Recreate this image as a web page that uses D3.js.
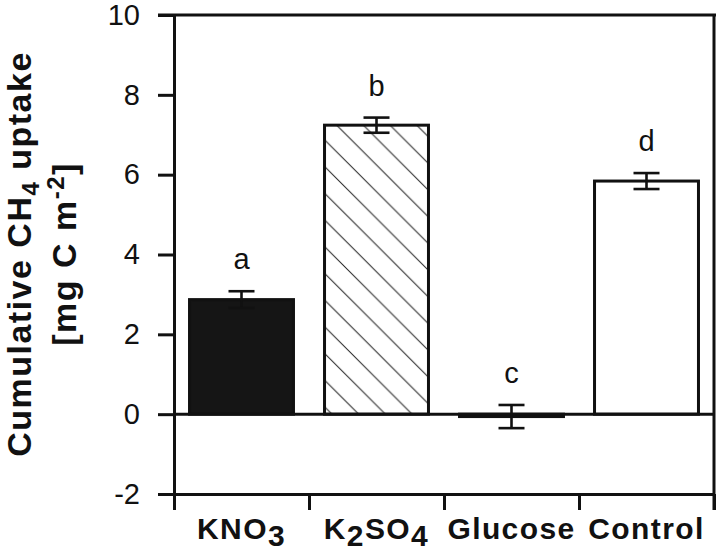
<!DOCTYPE html>
<html>
<head>
<meta charset="utf-8">
<script src="https://cdn.jsdelivr.net/npm/d3@7"></script>
<style>
  body { margin: 0; background: #fff; }
  svg { display: block; }
  text { font-family: "Liberation Sans", Arial, sans-serif; fill: #111; }
</style>
</head>
<body>
<script>
// data
const categories = ['KNO3', 'K2SO4', 'Glucose', 'Control']
const values = [2.87, 7.24, -0.06, 5.84]
const errors = [0.21, 0.19, 0.29, 0.20]
const letters = ['a', 'b', 'c', 'd']
const yTicks = [-2, 0, 2, 4, 6, 8, 10]
// label pieces: [text, isSubscript]
const catLabels = [
  [['KNO', 0], ['3', 1]],
  [['K', 0], ['2', 1], ['SO', 0], ['4', 1]],
  [['Glucose', 0]],
  [['Control', 0]]
]

const width = 716, height = 554
const margin = {top: 15, right: 2, bottom: 60, left: 174}

const svg = d3.select('body').append('svg')
  .attr('width', width)
  .attr('height', height)

const defs = svg.append('defs')
const hs = 26.7
const hatch = defs.append('pattern')
  .attr('id', 'hatch')
  .attr('patternUnits', 'userSpaceOnUse')
  .attr('width', hs).attr('height', hs)
  .attr('x', 345)
hatch.append('rect').attr('width', hs).attr('height', hs).attr('fill', '#fff')
hatch.append('path')
  .attr('d', `M0,0L${hs},${hs}M-2,${hs - 2}L2,${hs + 2}M${hs - 2},-2L${hs + 2},2`)
  .attr('stroke', '#222').attr('stroke-width', 1)

const fills = ['#151515', 'url(#hatch)', '#151515', '#fff']

const x = d3.scaleBand()
  .domain(categories)
  .range([margin.left, width - margin.right])
  .padding(0)
const xEdge = d3.scaleLinear()
  .domain([0, categories.length])
  .range([margin.left, width - margin.right])
const y = d3.scaleLinear()
  .domain([-2, 10])
  .range([height - margin.bottom, margin.top])

const barW = x.bandwidth() * 0.77

// bars
svg.append('g').selectAll('rect')
  .data(values)
  .join('rect')
  .attr('x', (d, i) => x(categories[i]) + (x.bandwidth() - barW) / 2)
  .attr('width', barW)
  .attr('y', d => y(Math.max(0, d)))
  .attr('height', d => Math.abs(y(d) - y(0)))
  .attr('fill', (d, i) => fills[i])
  .attr('stroke', '#111')
  .attr('stroke-width', 3)

// zero line
svg.append('line')
  .attr('x1', margin.left).attr('x2', width - margin.right)
  .attr('y1', y(0)).attr('y2', y(0))
  .attr('stroke', '#111').attr('stroke-width', 3)

// error bars
const eb = svg.append('g').selectAll('g')
  .data(values)
  .join('g')
  .attr('transform', (d, i) => `translate(${x(categories[i]) + x.bandwidth() / 2},0)`)
  .attr('stroke', '#111').attr('stroke-width', 2.6)
eb.append('line')
  .attr('y1', (d, i) => y(d + errors[i])).attr('y2', (d, i) => y(d - errors[i]))
eb.append('line')
  .attr('x1', -13).attr('x2', 13)
  .attr('y1', (d, i) => y(d + errors[i])).attr('y2', (d, i) => y(d + errors[i]))
eb.append('line')
  .attr('x1', -13).attr('x2', 13)
  .attr('y1', (d, i) => y(d - errors[i])).attr('y2', (d, i) => y(d - errors[i]))

// significance letters
svg.append('g').selectAll('text')
  .data(letters)
  .join('text')
  .attr('x', (d, i) => x(categories[i]) + x.bandwidth() / 2)
  .attr('y', (d, i) => y(values[i] + errors[i]) - 22)
  .attr('text-anchor', 'middle')
  .attr('font-size', 29)
  .text(d => d)

// y axis
const yAxis = d3.axisLeft(y)
  .tickValues(yTicks)
  .tickFormat(d => String(d))
  .tickSize(16)
  .tickSizeOuter(0)
  .tickPadding(18)
const gy = svg.append('g')
  .attr('transform', `translate(${margin.left},0)`)
  .call(yAxis)
gy.selectAll('line, path').attr('stroke', '#111').attr('stroke-width', 3)
gy.selectAll('text')
  .attr('font-size', 29)
  .attr('font-family', '"Liberation Sans", Arial, sans-serif')
  .attr('fill', '#111')

// x axis (ticks at band edges)
const xAxis = d3.axisBottom(xEdge)
  .ticks(categories.length)
  .tickFormat('')
  .tickSize(16)
  .tickSizeOuter(0)
const gx = svg.append('g')
  .attr('transform', `translate(0,${y(-2)})`)
  .call(xAxis)
gx.selectAll('line, path').attr('stroke', '#111').attr('stroke-width', 3)

// top and right frame
svg.append('line')
  .attr('x1', margin.left - 16).attr('x2', width)
  .attr('y1', y(10)).attr('y2', y(10))
  .attr('stroke', '#111').attr('stroke-width', 3)
svg.append('line')
  .attr('x1', width - margin.right).attr('x2', width - margin.right)
  .attr('y1', y(10)).attr('y2', y(-2) + 16)
  .attr('stroke', '#111').attr('stroke-width', 3)

// category labels
const cl = svg.append('g').selectAll('text')
  .data(catLabels)
  .join('text')
  .attr('x', (d, i) => x(categories[i]) + x.bandwidth() / 2)
  .attr('y', 539)
  .attr('text-anchor', 'middle')
  .attr('font-size', 30)
  .attr('font-weight', 'bold')
  .attr('letter-spacing', 1.4)
cl.each(function(parts) {
  const t = d3.select(this)
  let sub = 0
  parts.forEach(([s, isSub]) => {
    const dy = isSub && !sub ? 7 : (!isSub && sub ? -7 : 0)
    t.append('tspan').attr('dy', dy).text(s)
    sub = isSub
  })
})

// y axis title
const title = svg.append('g')
  .attr('transform', 'translate(0,254) rotate(-90)')
  .attr('font-weight', 'bold')
  .attr('font-size', 34)
  .attr('letter-spacing', 1.5)
const t1 = title.append('text').attr('x', 0).attr('y', 31).attr('text-anchor', 'middle')
t1.append('tspan').text('Cumulative CH')
t1.append('tspan').attr('dy', 8).attr('font-size', 24).text('4')
t1.append('tspan').attr('dy', -8).text(' uptake')
const t2 = title.append('text').attr('x', 0).attr('y', 76).attr('text-anchor', 'middle')
t2.append('tspan').text('[mg C m')
t2.append('tspan').attr('dy', -12).attr('font-size', 24).text('-2')
t2.append('tspan').attr('dy', 12).text(']')
</script>
</body>
</html>
